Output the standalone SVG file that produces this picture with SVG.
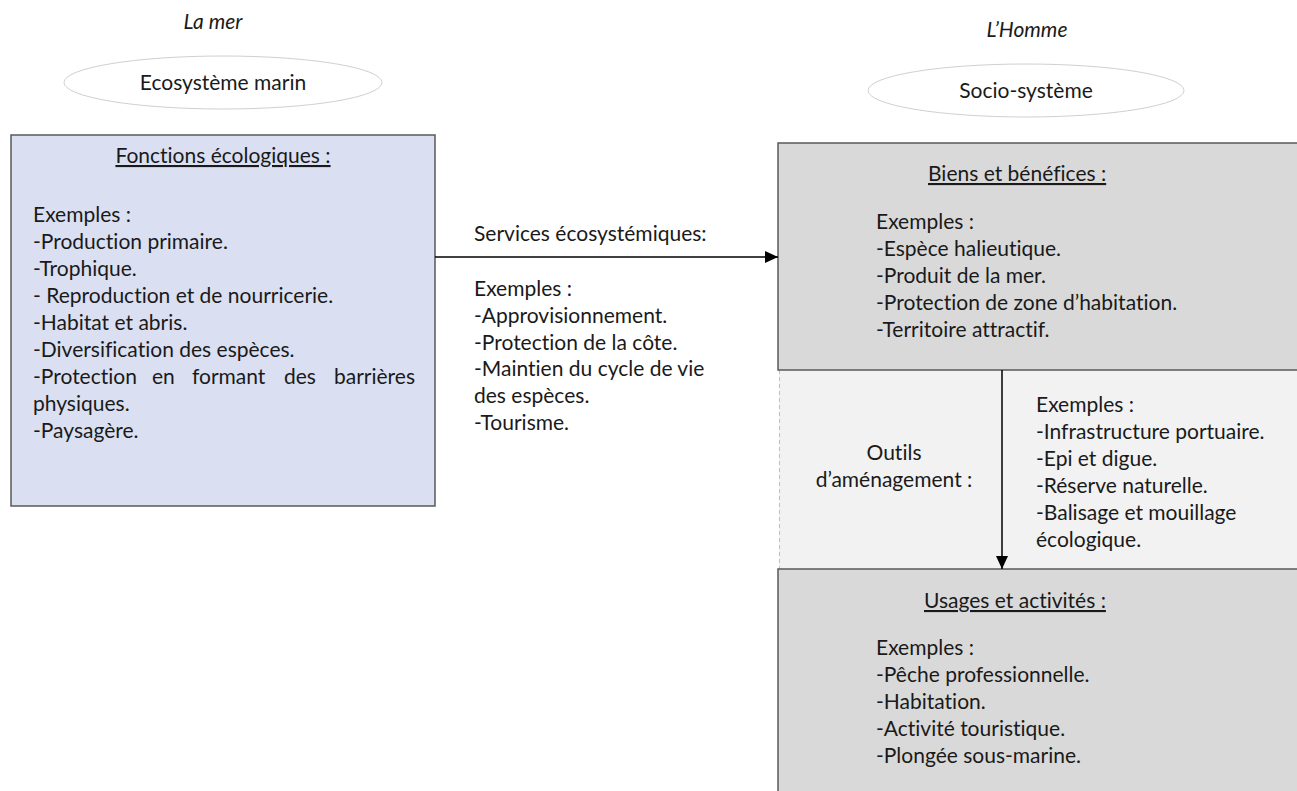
<svg xmlns="http://www.w3.org/2000/svg" width="1297" height="791" viewBox="0 0 1297 791">
<style>
text{font-family:Lato,"Noto Sans","Liberation Sans",sans-serif;font-size:21px;fill:#1a1a1a;font-variant-ligatures:none}
.it{font-style:italic}
.u{text-decoration:underline}
.mid{text-anchor:middle}
.ell{fill:#ffffff;stroke:#d0d0d0;stroke-width:1}
.box{stroke:#595959;stroke-width:1.5}
</style>
<defs>
<marker id="ah" markerWidth="13" markerHeight="12" refX="13" refY="6" orient="auto" markerUnits="userSpaceOnUse">
<path d="M0,0 L13,6 L0,12 z" fill="#000"/>
</marker>
</defs>
<rect width="1297" height="791" fill="#ffffff"/>

<g id="label-mer"><text class="it mid" x="213" y="29">La mer</text></g>
<g id="ecosysteme"><ellipse class="ell" cx="223" cy="82.5" rx="159" ry="26.5"/><text class="mid" x="223" y="90">Ecosystème marin</text></g>

<g id="label-homme"><text class="it mid" x="1027" y="37">L’Homme</text></g>
<g id="socio"><ellipse class="ell" cx="1026" cy="90.5" rx="158" ry="26.5"/><text class="mid" x="1026" y="98">Socio-système</text></g>

<g id="fonctions">
<rect class="box" x="11" y="135" width="424" height="371" fill="#dae0f2"/>
<text class="u mid" x="223" y="163">Fonctions écologiques :</text>
<text x="33" y="222">Exemples :</text>
<text x="33" y="249">-Production primaire.</text>
<text x="33" y="276">-Trophique.</text>
<text x="33" y="303">- Reproduction et de nourricerie.</text>
<text x="33" y="330">-Habitat et abris.</text>
<text x="33" y="357">-Diversification des espèces.</text>
<text y="384"><tspan x="33">-Protection</tspan><tspan x="152">en</tspan><tspan x="192">formant</tspan><tspan x="284">des</tspan><tspan x="415" text-anchor="end">barrières</tspan></text>
<text x="33" y="411">physiques.</text>
<text x="33" y="438">-Paysagère.</text>
</g>

<g id="outils-zone">
<rect x="779" y="370" width="530" height="199" fill="#f2f2f2"/>
<line x1="779.5" y1="370" x2="779.5" y2="569" stroke="#bfbfbf" stroke-width="1" stroke-dasharray="4,3"/>
<text class="mid" x="894" y="460">Outils</text>
<text class="mid" x="894" y="487">d’aménagement :</text>
<text x="1036" y="412">Exemples :</text>
<text x="1036" y="439">-Infrastructure portuaire.</text>
<text x="1036" y="466">-Epi et digue.</text>
<text x="1036" y="493">-Réserve naturelle.</text>
<text x="1036" y="520">-Balisage et mouillage</text>
<text x="1036" y="547">écologique.</text>
</g>

<g id="biens">
<rect class="box" x="778" y="143" width="530" height="227" fill="#d9d9d9"/>
<text class="u" x="928" y="181">Biens et bénéfices :</text>
<text x="876" y="229">Exemples :</text>
<text x="876" y="256">-Espèce halieutique.</text>
<text x="876" y="283">-Produit de la mer.</text>
<text x="876" y="310">-Protection de zone d’habitation.</text>
<text x="876" y="337">-Territoire attractif.</text>
</g>

<g id="usages">
<rect class="box" x="778" y="569" width="530" height="240" fill="#d9d9d9"/>
<text class="u" x="924" y="608">Usages et activités :</text>
<text x="876" y="655">Exemples :</text>
<text x="876" y="682">-Pêche professionnelle.</text>
<text x="876" y="709">-Habitation.</text>
<text x="876" y="736">-Activité touristique.</text>
<text x="876" y="763">-Plongée sous-marine.</text>
</g>

<g id="connectors">
<line x1="435" y1="257" x2="778" y2="257" stroke="#000" stroke-width="1.5" marker-end="url(#ah)"/>
<line x1="1002" y1="370" x2="1002" y2="569" stroke="#000" stroke-width="1.5" marker-end="url(#ah)"/>
</g>

<g id="services-label">
<text x="474" y="241">Services écosystémiques:</text>
<text x="474" y="296">Exemples :</text>
<text x="474" y="323">-Approvisionnement.</text>
<text x="474" y="350">-Protection de la côte.</text>
<text x="474" y="376">-Maintien du cycle de vie</text>
<text x="474" y="403">des espèces.</text>
<text x="474" y="430">-Tourisme.</text>
</g>
</svg>
